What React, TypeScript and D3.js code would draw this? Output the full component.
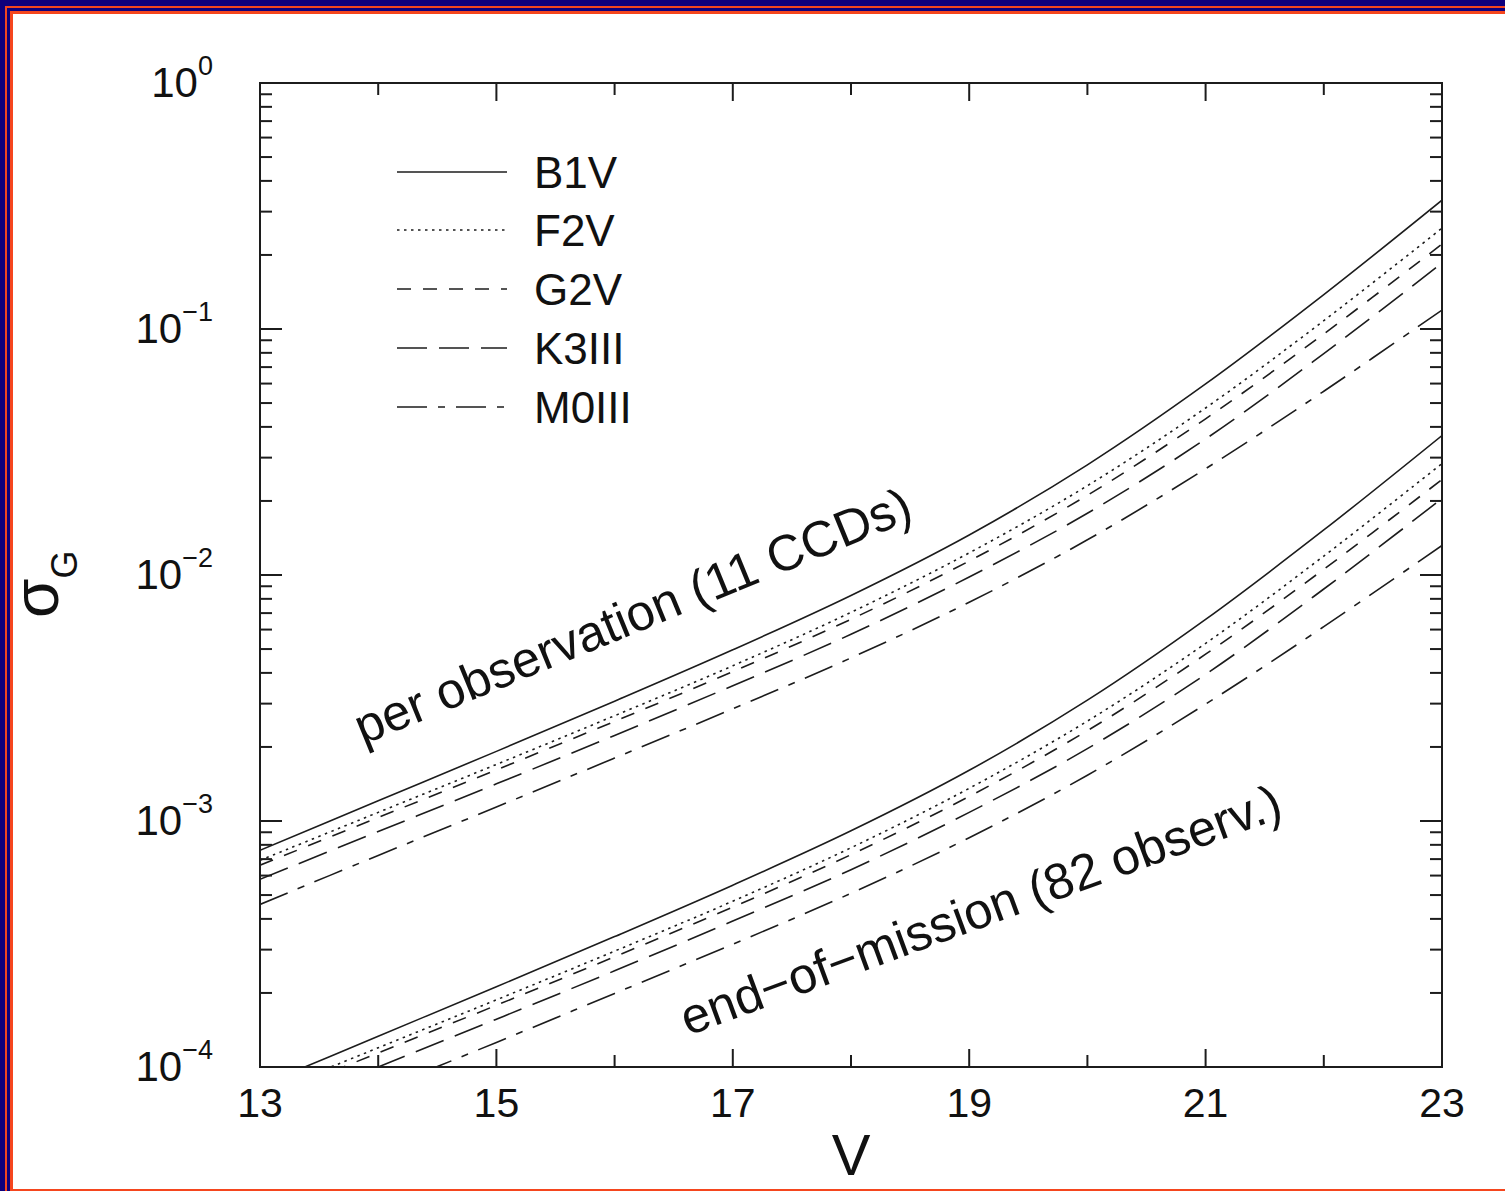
import React from "react";
import * as d3 from "d3";

// ---------- data ----------
const magnitudes = [13, 14, 15, 16, 17, 18, 19, 20, 21, 22, 23];

// per observation (11 CCDs)
const perObsB1V = [7.6e-4, 1.208e-3, 1.919e-3, 3.069e-3, 4.966e-3, 8.26e-3, 0.01455, 0.02805, 0.0598, 0.138, 0.334];
const perObsF2V = [6.92e-4, 1.084e-3, 1.698e-3, 2.679e-3, 4.276e-3, 7.05e-3, 0.0123, 0.02307, 0.04775, 0.1081, 0.257];
const perObsG2V = [6.61e-4, 1.033e-3, 1.614e-3, 2.541e-3, 4.046e-3, 6.607e-3, 0.0114, 0.02109, 0.04315, 0.0955, 0.2213];
const perObsK3III = [5.794e-4, 9.057e-4, 1.416e-3, 2.228e-3, 3.548e-3, 5.741e-3, 9.817e-3, 0.01782, 0.03573, 0.07943, 0.1854];
const perObsM0III = [4.581e-4, 7.244e-4, 1.14e-3, 1.803e-3, 2.858e-3, 4.603e-3, 7.745e-3, 0.0139, 0.02704, 0.05585, 0.1194];

// end-of-mission (82 observ.)
const eomB1V = [8.39e-5, 1.334e-4, 2.119e-4, 3.389e-4, 5.484e-4, 9.12e-4, 1.607e-3, 3.098e-3, 6.6e-3, 0.01524, 0.0369];
const eomF2V = [7.64e-5, 1.197e-4, 1.875e-4, 2.958e-4, 4.722e-4, 7.785e-4, 1.358e-3, 2.548e-3, 5.273e-3, 0.01194, 0.02838];
const eomG2V = [7.3e-5, 1.141e-4, 1.782e-4, 2.806e-4, 4.468e-4, 7.296e-4, 1.259e-3, 2.329e-3, 4.765e-3, 0.01055, 0.02444];
const eomK3III = [6.4e-5, 1.0e-4, 1.564e-4, 2.46e-4, 3.918e-4, 6.34e-4, 1.084e-3, 1.968e-3, 3.946e-3, 8.771e-3, 0.02047];
const eomM0III = [5.06e-5, 8.0e-5, 1.259e-4, 1.991e-4, 3.156e-4, 5.083e-4, 8.553e-4, 1.535e-3, 2.986e-3, 6.167e-3, 0.01319];

const seriesNames = ["B1V", "F2V", "G2V", "K3III", "M0III"];
const seriesDash = ["none", "2.5,4.5", "14,12", "30,12", "30,11,7,11"];
const perObs = [perObsB1V, perObsF2V, perObsG2V, perObsK3III, perObsM0III];
const endOfMission = [eomB1V, eomF2V, eomG2V, eomK3III, eomM0III];

const xMajorTicks = [13, 15, 17, 19, 21, 23];
const xMinorTicks = [14, 16, 18, 20, 22];
const yDecadeExponents = [0, -1, -2, -3, -4];

// ---------- layout ----------
const W = 1505;
const H = 1191;
const PL = 260, PR = 1442, PT = 83, PB = 1067;
const FONT = "'Liberation Sans', Arial, Helvetica, sans-serif";
const INK = "#1c1c1c";
const NAVY = "#10007c";
const ORANGE = "#f5461e";

export default function App() {
  const x = d3.scaleLinear().domain([13, 23]).range([PL, PR]);
  const y = d3.scaleLog().domain([1e-4, 1]).range([PB, PT]);

  const line = d3
    .line<[number, number]>()
    .x((d) => x(d[0]))
    .y((d) => y(d[1]))
    .curve(d3.curveCatmullRom.alpha(0.5));

  const minorY: number[] = [];
  for (const e of [-4, -3, -2, -1]) {
    for (let k = 2; k <= 9; k++) minorY.push(k * Math.pow(10, e));
  }

  const curves = (group: number[][], key: string) =>
    group.map((vals, i) => (
      <path
        key={key + i}
        d={line(magnitudes.map((m, j) => [m, vals[j]] as [number, number])) || ""}
        fill="none"
        stroke={INK}
        strokeWidth={1.6}
        strokeDasharray={seriesDash[i]}
      />
    ));

  const legendY = [172, 230, 289, 348, 407];

  return (
    <div style={{ position: "absolute", left: 0, top: 0, width: W, height: H, overflow: "hidden" }}>
      <svg width={W} height={H} style={{ display: "block" }}>
        {/* border */}
        <rect x={0} y={0} width={W} height={H} fill={NAVY} />
        <rect x={5} y={6} width={W + 40} height={H + 40} fill={ORANGE} />
        <rect x={7} y={8} width={W + 40} height={H + 40} fill={NAVY} />
        <rect x={10} y={11} width={W + 40} height={H + 40} fill={ORANGE} />
        <rect x={13} y={14} width={W + 40} height={1189 - 14} fill="#ffffff" />

        <defs>
          <clipPath id="plotClip">
            <rect x={PL} y={PT} width={PR - PL} height={PB - PT} />
          </clipPath>
        </defs>

        {/* curves */}
        <g clipPath="url(#plotClip)">
          {curves(perObs, "p")}
          {curves(endOfMission, "e")}
        </g>

        {/* frame */}
        <rect x={PL} y={PT} width={PR - PL} height={PB - PT} fill="none" stroke={INK} strokeWidth={2} />

        {/* x ticks */}
        {xMajorTicks.map((t) => (
          <g key={"xM" + t}>
            <line x1={x(t)} x2={x(t)} y1={PB} y2={PB - 18} stroke={INK} strokeWidth={2} />
            <line x1={x(t)} x2={x(t)} y1={PT} y2={PT + 18} stroke={INK} strokeWidth={2} />
            <text x={x(t)} y={1117} textAnchor="middle" fontFamily={FONT} fontSize={41} fill="#111">
              {t}
            </text>
          </g>
        ))}
        {xMinorTicks.map((t) => (
          <g key={"xm" + t}>
            <line x1={x(t)} x2={x(t)} y1={PB} y2={PB - 12} stroke={INK} strokeWidth={2} />
            <line x1={x(t)} x2={x(t)} y1={PT} y2={PT + 12} stroke={INK} strokeWidth={2} />
          </g>
        ))}

        {/* y ticks */}
        {yDecadeExponents.map((e) => {
          const v = Math.pow(10, e);
          return (
            <g key={"yM" + e}>
              <line x1={PL} x2={PL + 22} y1={y(v)} y2={y(v)} stroke={INK} strokeWidth={2} />
              <line x1={PR} x2={PR - 22} y1={y(v)} y2={y(v)} stroke={INK} strokeWidth={2} />
              <text x={213} y={y(v) + 14} textAnchor="end" fontFamily={FONT} fontSize={42} fill="#111">
                10
                <tspan fontSize={27} dy={-22}>
                  {e === 0 ? "0" : "\u2212" + Math.abs(e)}
                </tspan>
              </text>
            </g>
          );
        })}
        {minorY.map((v, i) => (
          <g key={"ym" + i}>
            <line x1={PL} x2={PL + 12} y1={y(v)} y2={y(v)} stroke={INK} strokeWidth={2} />
            <line x1={PR} x2={PR - 12} y1={y(v)} y2={y(v)} stroke={INK} strokeWidth={2} />
          </g>
        ))}

        {/* axis titles */}
        <text x={851} y={1175} textAnchor="middle" fontFamily={FONT} fontSize={58} fill="#111">
          V
        </text>
        <text transform="translate(58,618) rotate(-90)" fontFamily={FONT} fontSize={64} fill="#111">
          σ
          <tspan fontSize={36} dy={19}>
            G
          </tspan>
        </text>

        {/* legend */}
        {seriesNames.map((name, i) => (
          <g key={"lg" + name}>
            <line
              x1={397}
              x2={507}
              y1={legendY[i]}
              y2={legendY[i]}
              stroke={INK}
              strokeWidth={1.6}
              strokeDasharray={seriesDash[i]}
            />
            <text x={534} y={legendY[i] + 16} fontFamily={FONT} fontSize={44} fill="#111">
              {name}
            </text>
          </g>
        ))}

        {/* curve group labels */}
        <text
          transform="translate(363,745) rotate(-22.3)"
          fontFamily={FONT}
          fontSize={50.5}
          fill="#111"
        >
          per observation (11 CCDs)
        </text>
        <text
          transform="translate(688,1036) rotate(-20.2)"
          fontFamily={FONT}
          fontSize={50.5}
          fill="#111"
        >
          end{"\u2212"}of{"\u2212"}mission (82 observ.)
        </text>
      </svg>
    </div>
  );
}
